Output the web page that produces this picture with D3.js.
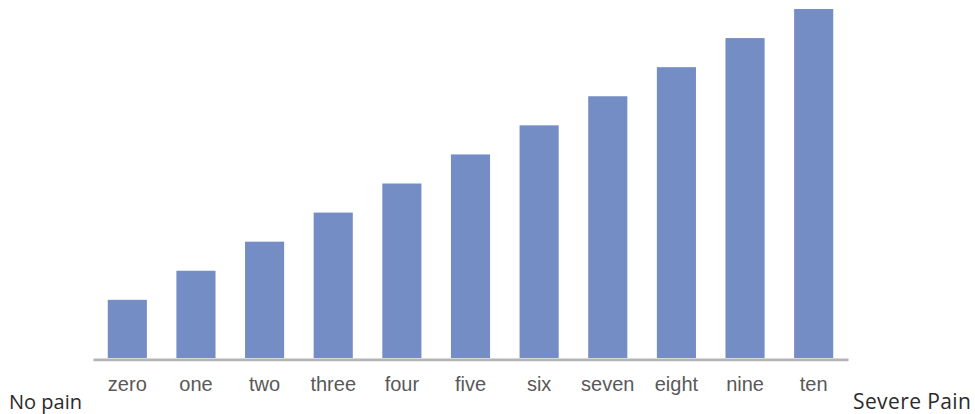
<!DOCTYPE html>
<html>
<head>
<meta charset="utf-8">
<script src="https://cdn.jsdelivr.net/npm/d3@7"></script>
<style>
  html, body { margin: 0; padding: 0; background: #fff; }
  svg { display: block; }
</style>
</head>
<body>
<svg id="chart" width="975" height="414"></svg>
<script>
// Pain scale levels and their bar heights
const categories = ["zero", "one", "two", "three", "four", "five", "six", "seven", "eight", "nine", "ten"];
const values = [2, 3, 4, 5, 6, 7, 8, 9, 10, 11, 12];
const endLabels = ["No pain", "Severe Pain"];

const svg = d3.select("#chart");
const margin = { left: 93, right: 127, top: 9, bottom: 56 };
const W = 975, H = 414;
const baseline = H - margin.bottom;

const x = d3.scaleBand()
  .domain(categories)
  .range([margin.left, W - margin.right])
  .paddingInner(0.43)
  .paddingOuter(0.215);

const y = d3.scaleLinear()
  .domain([0, 12])
  .range([baseline, margin.top]);

svg.append("g")
  .selectAll("rect")
  .data(values)
  .join("rect")
  .attr("x", (d, i) => x(categories[i]))
  .attr("y", d => y(d))
  .attr("width", x.bandwidth())
  .attr("height", d => y(0) - y(d))
  .attr("fill", "#758dc5");

// Category axis along the baseline
const axis = svg.append("g")
  .attr("transform", `translate(0,${baseline + 1.3})`)
  .call(d3.axisBottom(x).tickSize(0).tickPadding(18));
axis.select(".domain")
  .attr("stroke", "#b4b4b6")
  .attr("stroke-width", 2.7);
axis.selectAll(".tick text")
  .attr("fill", "#595959")
  .attr("font-family", "'Liberation Sans', Arial, sans-serif")
  .attr("font-size", 20)
  .style("font-family", "'Liberation Sans', Arial, sans-serif")
  .style("font-size", "20px");

// Scale end labels
svg.append("text")
  .attr("x", 9)
  .attr("y", 409)
  .attr("fill", "#2b2b2b")
  .style("font-family", "'Open Sans', sans-serif")
  .style("font-size", "20px")
  .text(endLabels[0]);

svg.append("text")
  .attr("x", 853)
  .attr("y", 409)
  .attr("fill", "#2b2b2b")
  .style("font-family", "'Open Sans', sans-serif")
  .style("font-size", "21px")
  .style("letter-spacing", "0.4px")
  .text(endLabels[1]);
</script>
</body>
</html>
